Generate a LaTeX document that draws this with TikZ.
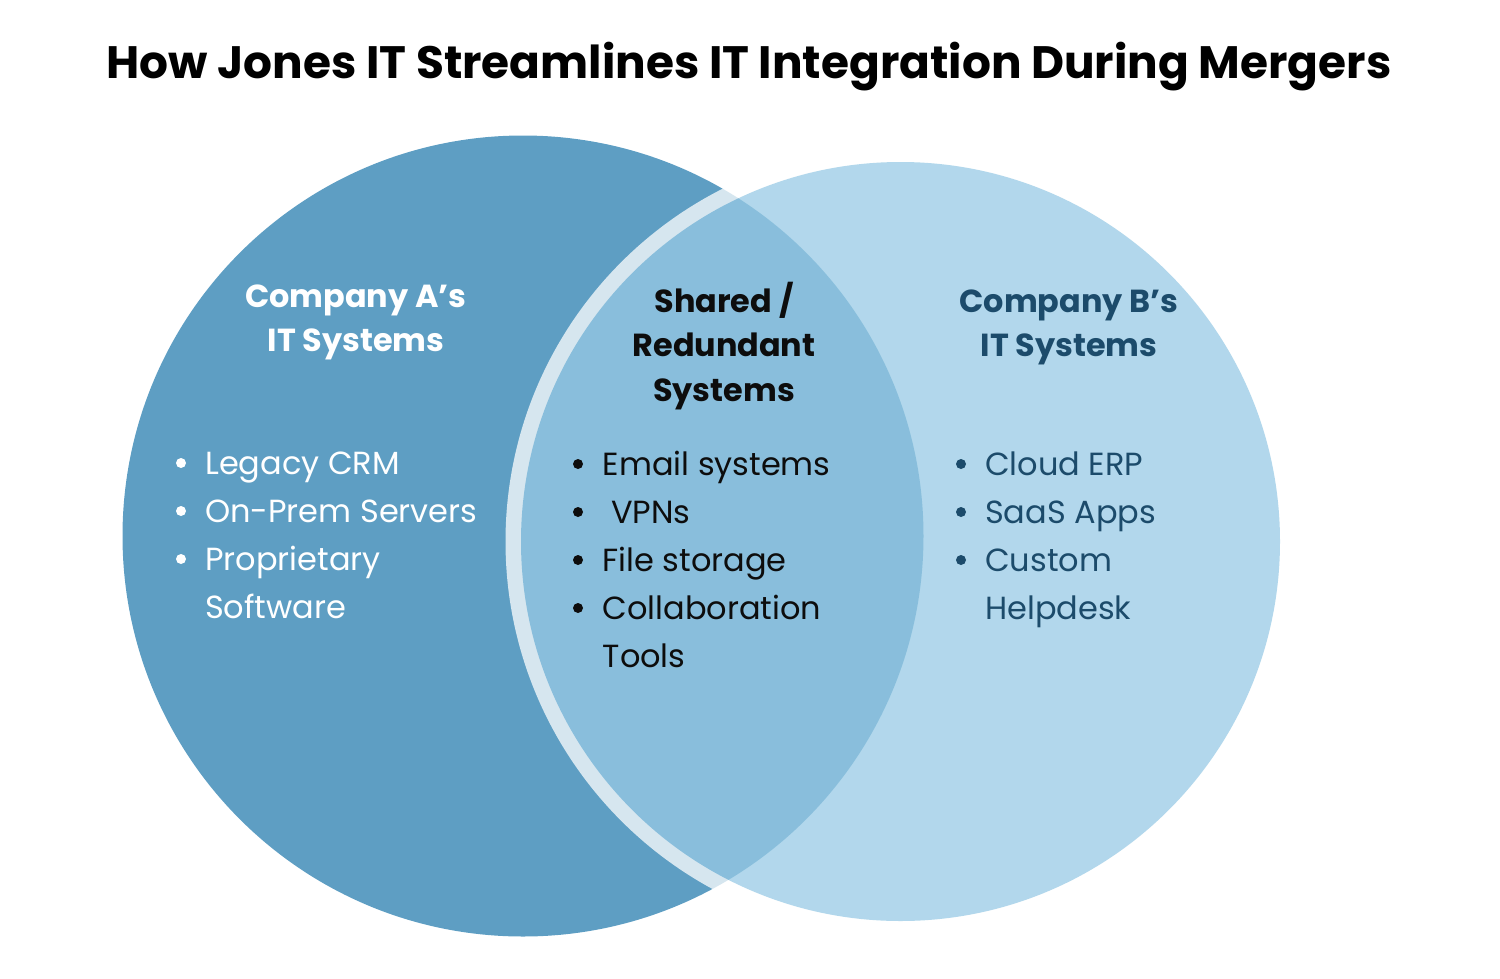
\documentclass[tikz,border=0pt]{standalone}
\usepackage{fontspec}
\setmainfont{Poppins}
\usetikzlibrary{positioning}
\definecolor{lcol}{HTML}{5E9EC3}
\definecolor{rcol}{HTML}{98CAE5}
\definecolor{bdark}{HTML}{1C4B6B}
\definecolor{cdark}{HTML}{0D0D0D}
\tikzset{
  titletext/.style={anchor=base, inner sep=0pt, font=\fontsize{45.4}{50}\selectfont\bfseries, text=black},
  headA/.style={anchor=base, inner sep=0pt, font=\fontsize{31.9}{36}\selectfont\bfseries, text=white},
  headB/.style={anchor=base, inner sep=0pt, font=\fontsize{31.9}{36}\selectfont\bfseries, text=bdark},
  headC/.style={anchor=base, inner sep=0pt, font=\fontsize{31.9}{36}\selectfont\bfseries, text=cdark},
  itemtext/.style={anchor=base west, inner sep=0pt, font=\fontsize{32}{36}\selectfont},
  dot/.style={circle, inner sep=0pt, minimum size=10pt}
}
\begin{document}
\begin{tikzpicture}[x=1pt, y=-1pt]
\useasboundingbox (0,0) rectangle (1500,978);
% circles
\fill[lcol] (523,536) circle (400.5);
\begin{scope}[transparency group, opacity=0.75]
  \draw[white, line width=31pt] (900.5,541.5) circle (379.5);
  \fill[rcol] (900.5,541.5) circle (379.5);
\end{scope}
% title
\node[titletext] (title) at (749,78) {How Jones IT Streamlines IT Integration During Mergers};
% Company A
\node[headA] (a1) at (356,307) {Company A’s};
\node[headA] (a2) at (356,351) {IT Systems};
\foreach \t/\y [count=\i] in {Legacy CRM/474, On-Prem Servers/522, Proprietary/570}{
  \node[dot, fill=white] (ad\i) at (181,\y-11) {};
  \node[itemtext, text=white] (ai\i) at (205,\y) {\t};
}
\node[itemtext, text=white] (ai4) at (205,618) {Software};
% Shared
\node[headC] (c1) at (724,312) {Shared /};
\node[headC] (c2) at (724,356.5) {Redundant};
\node[headC] (c3) at (724,401) {Systems};
\foreach \t/\y [count=\i] in {Email systems/475, {\ VPNs}/523, File storage/571, Collaboration/619}{
  \node[dot, fill=cdark] (cd\i) at (578,\y-11) {};
  \node[itemtext, text=cdark] (ci\i) at (602.5,\y) {\t};
}
\node[itemtext, text=cdark] (ci5) at (602.5,667) {Tools};
% Company B
\node[headB] (b1) at (1069,312) {Company B’s};
\node[headB] (b2) at (1069,356.5) {IT Systems};
\foreach \t/\y [count=\i] in {Cloud ERP/475, SaaS Apps/523, Custom/571}{
  \node[dot, fill=bdark] (bd\i) at (961,\y-11) {};
  \node[itemtext, text=bdark] (bi\i) at (985,\y) {\t};
}
\node[itemtext, text=bdark] (bi4) at (985,619) {Helpdesk};
\end{tikzpicture}
\end{document}
